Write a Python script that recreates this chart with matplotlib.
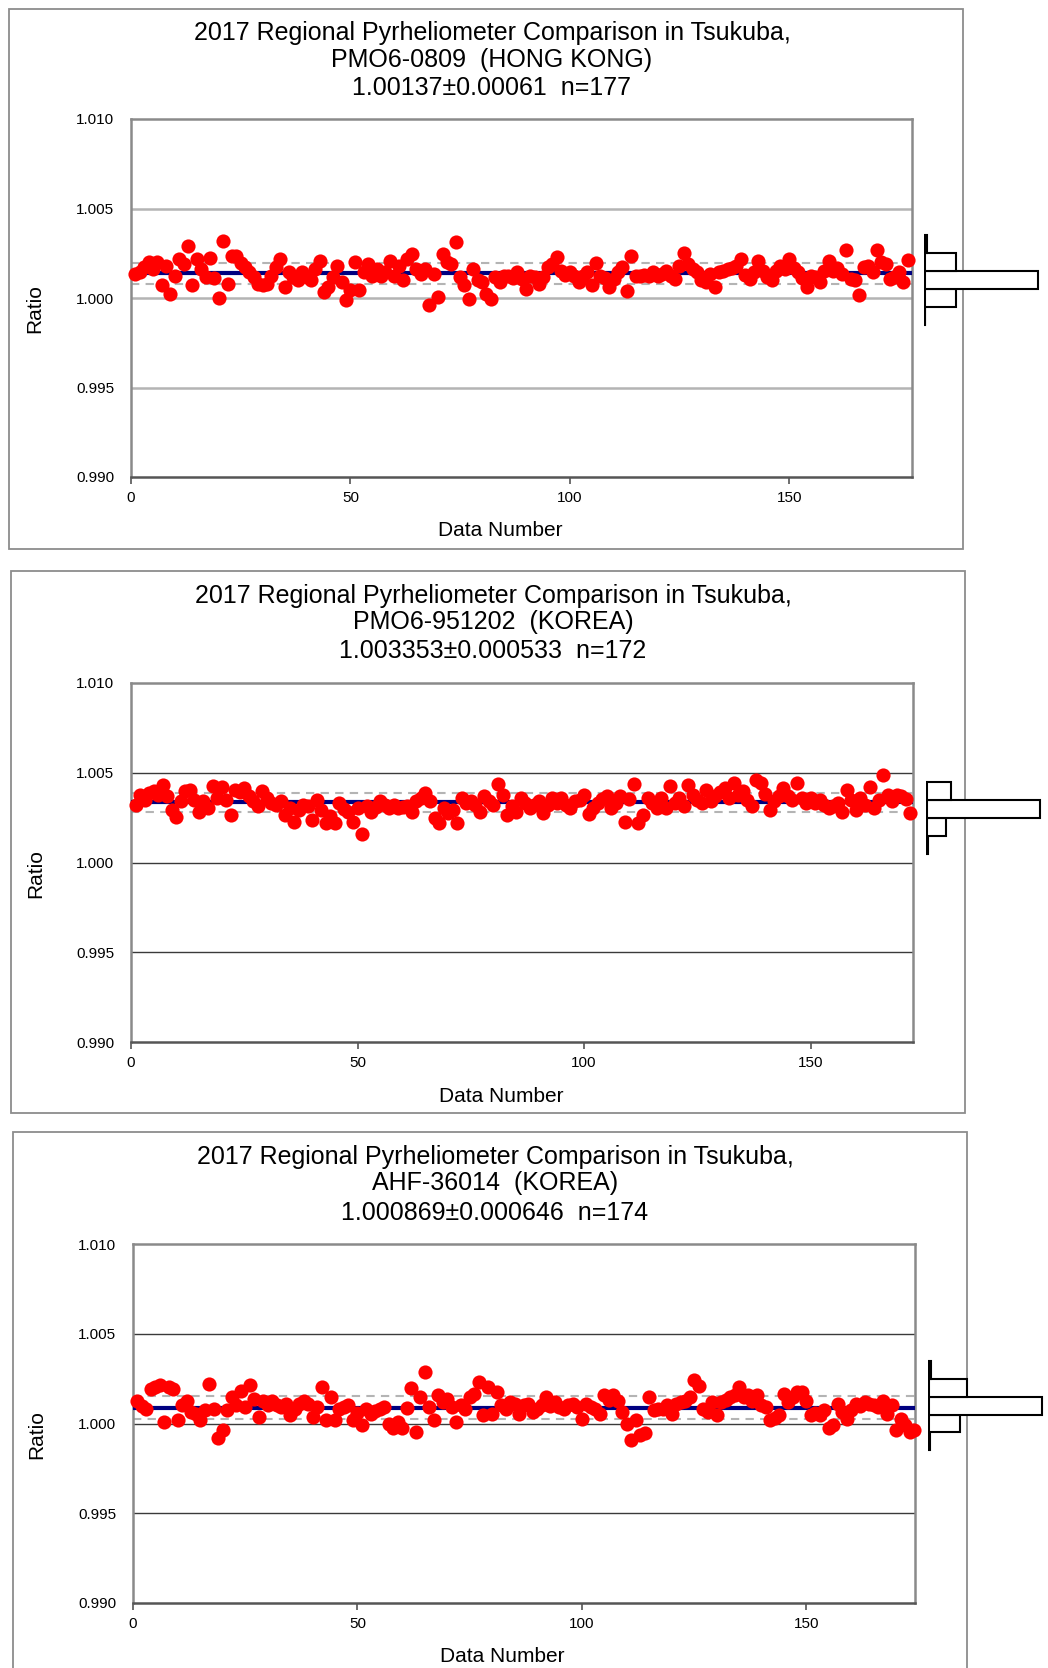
import numpy as np
import matplotlib
matplotlib.use("Agg")
import matplotlib.pyplot as plt
from matplotlib.patches import Rectangle

plt.rcParams['font.family'] = ['Liberation Sans', 'DejaVu Sans']

# ---- data ----
title_top = "2017 Regional Pyrheliometer Comparison in Tsukuba,"
instruments = ["PMO6-0809  (HONG KONG)", "PMO6-951202  (KOREA)", "AHF-36014  (KOREA)"]
mean_text = ["1.00137", "1.003353", "1.000869"]
std_text = ["0.00061", "0.000533", "0.000646"]
means = [1.00137, 1.003353, 1.000869]
stds = [0.00061, 0.000533, 0.000646]

ratio_hk = [
    1.00135, 1.00144, 1.00172, 1.00203, 1.00162, 1.00203, 1.00074, 1.00181, 1.00024, 1.00125,
    1.00218, 1.00190, 1.00292, 1.00074, 1.00218, 1.00162, 1.00116, 1.00223, 1.00111, 1.00000,
    1.00319, 1.00079, 1.00236, 1.00232, 1.00196, 1.00172, 1.00144, 1.00116, 1.00079, 1.00070,
    1.00079, 1.00125, 1.00172, 1.00218, 1.00061, 1.00144, 1.00116, 1.00098, 1.00144, 1.00120,
    1.00098, 1.00162, 1.00208, 1.00033, 1.00061, 1.00116, 1.00177, 1.00090, 0.99987, 1.00042,
    1.00199, 1.00042, 1.00144, 1.00190, 1.00125, 1.00162, 1.00125, 1.00144, 1.00208, 1.00125,
    1.00181, 1.00098, 1.00218, 1.00245, 1.00162, 1.00135, 1.00162, 0.99959, 1.00135, 1.00006,
    1.00245, 1.00199, 1.00190, 1.00314, 1.00116, 1.00070, 0.99993, 1.00162, 1.00098, 1.00089,
    1.00024, 0.99996, 1.00116, 1.00089, 1.00125, 1.00125, 1.00110, 1.00144, 1.00107, 1.00052,
    1.00125, 1.00116, 1.00079, 1.00116, 1.00172, 1.00190, 1.00227, 1.00153, 1.00130, 1.00144,
    1.00125, 1.00089, 1.00125, 1.00144, 1.00070, 1.00196, 1.00125, 1.00110, 1.00061, 1.00107,
    1.00144, 1.00172, 1.00037, 1.00232, 1.00125, 1.00125, 1.00130, 1.00125, 1.00144, 1.00125,
    1.00135, 1.00153, 1.00125, 1.00107, 1.00181, 1.00251, 1.00190, 1.00160, 1.00144, 1.00098,
    1.00089, 1.00135, 1.00061, 1.00144, 1.00153, 1.00162, 1.00170, 1.00181, 1.00218, 1.00130,
    1.00107, 1.00144, 1.00208, 1.00150, 1.00120, 1.00098, 1.00153, 1.00181, 1.00160, 1.00218,
    1.00170, 1.00144, 1.00110, 1.00061, 1.00125, 1.00116, 1.00089, 1.00150, 1.00208, 1.00153,
    1.00170, 1.00135, 1.00269, 1.00107, 1.00098, 1.00015, 1.00172, 1.00180, 1.00144, 1.00269,
    1.00200, 1.00190, 1.00107, 1.00116, 1.00144, 1.00089, 1.00210,
]

ratio_pmo_kr = [
    1.00321, 1.00377, 1.00350, 1.00386, 1.00396, 1.00377, 1.00433, 1.00368, 1.00293, 1.00256,
    1.00340, 1.00396, 1.00405, 1.00349, 1.00284, 1.00340, 1.00303, 1.00424, 1.00358, 1.00418,
    1.00349, 1.00262, 1.00405, 1.00392, 1.00414, 1.00368, 1.00340, 1.00312, 1.00400, 1.00358,
    1.00330, 1.00321, 1.00340, 1.00265, 1.00303, 1.00228, 1.00293, 1.00320, 1.00312, 1.00237,
    1.00349, 1.00293, 1.00219, 1.00260, 1.00219, 1.00330, 1.00300, 1.00284, 1.00228, 1.00303,
    1.00157, 1.00312, 1.00284, 1.00310, 1.00340, 1.00320, 1.00303, 1.00321, 1.00303, 1.00310,
    1.00312, 1.00284, 1.00340, 1.00360, 1.00386, 1.00340, 1.00247, 1.00219, 1.00303, 1.00275,
    1.00293, 1.00219, 1.00362, 1.00330, 1.00344, 1.00321, 1.00284, 1.00368, 1.00344, 1.00320,
    1.00437, 1.00377, 1.00265, 1.00312, 1.00284, 1.00358, 1.00330, 1.00303, 1.00320, 1.00340,
    1.00275, 1.00321, 1.00358, 1.00330, 1.00358, 1.00321, 1.00303, 1.00340, 1.00350, 1.00377,
    1.00269, 1.00303, 1.00330, 1.00355, 1.00368, 1.00303, 1.00330, 1.00368, 1.00228, 1.00355,
    1.00437, 1.00219, 1.00265, 1.00358, 1.00330, 1.00303, 1.00358, 1.00303, 1.00424, 1.00330,
    1.00358, 1.00312, 1.00433, 1.00377, 1.00350, 1.00330, 1.00405, 1.00340, 1.00368, 1.00390,
    1.00414, 1.00360, 1.00442, 1.00377, 1.00396, 1.00350, 1.00312, 1.00461, 1.00442, 1.00380,
    1.00293, 1.00340, 1.00370, 1.00414, 1.00368, 1.00350, 1.00442, 1.00358, 1.00330, 1.00358,
    1.00330, 1.00349, 1.00320, 1.00303, 1.00312, 1.00330, 1.00284, 1.00405, 1.00349, 1.00293,
    1.00358, 1.00320, 1.00418, 1.00303, 1.00350, 1.00485, 1.00377, 1.00340, 1.00377, 1.00368,
    1.00355, 1.00275,
]

ratio_ahf_kr = [
    1.00128, 1.00100, 1.00082, 1.00192, 1.00201, 1.00214, 1.00009, 1.00201, 1.00192, 1.00018,
    1.00101, 1.00128, 1.00064, 1.00055, 1.00018, 1.00073, 1.00220, 1.00082, 0.99918, 0.99963,
    1.00073, 1.00147, 1.00101, 1.00183, 1.00092, 1.00214, 1.00137, 1.00037, 1.00128, 1.00101,
    1.00128, 1.00101, 1.00092, 1.00110, 1.00046, 1.00082, 1.00110, 1.00128, 1.00110, 1.00037,
    1.00090, 1.00201, 1.00018, 1.00147, 1.00018, 1.00082, 1.00090, 1.00101, 1.00018, 1.00060,
    0.99991, 1.00082, 1.00055, 1.00070, 1.00082, 1.00092, 1.00000, 0.99973, 1.00009, 0.99975,
    1.00086, 1.00196, 0.99954, 1.00147, 1.00288, 1.00092, 1.00018, 1.00156, 1.00120, 1.00137,
    1.00092, 1.00009, 1.00101, 1.00082, 1.00147, 1.00165, 1.00229, 1.00049, 1.00201, 1.00055,
    1.00174, 1.00101, 1.00082, 1.00120, 1.00110, 1.00055, 1.00101, 1.00110, 1.00064, 1.00082,
    1.00101, 1.00147, 1.00100, 1.00119, 1.00092, 1.00082, 1.00101, 1.00110, 1.00092, 1.00027,
    1.00110, 1.00090, 1.00082, 1.00055, 1.00156, 1.00130, 1.00156, 1.00128, 1.00064, 1.00000,
    0.99908, 1.00018, 0.99936, 0.99945, 1.00147, 1.00073, 1.00082, 1.00082, 1.00101, 1.00055,
    1.00110, 1.00119, 1.00128, 1.00147, 1.00244, 1.00207, 1.00082, 1.00064, 1.00119, 1.00046,
    1.00119, 1.00130, 1.00147, 1.00156, 1.00201, 1.00147, 1.00156, 1.00128, 1.00156, 1.00101,
    1.00092, 1.00018, 1.00030, 1.00046, 1.00165, 1.00119, 1.00150, 1.00174, 1.00174, 1.00128,
    1.00046, 1.00060, 1.00046, 1.00073, 0.99973, 0.99991, 1.00110, 1.00064, 1.00027, 1.00073,
    1.00110, 1.00100, 1.00119, 1.00110, 1.00101, 1.00090, 1.00128, 1.00055, 1.00101, 0.99963,
    1.00027, 0.99991, 0.99954, 0.99963,
]

# histogram beside each chart (bin centres and counts)
hist_bins = [[0.999, 1.000, 1.001, 1.002, 1.003],
             [1.001, 1.002, 1.003, 1.004],
             [0.999, 1.000, 1.001, 1.002, 1.003]]
hist_counts = [[1, 32, 114, 32, 3],
               [2, 20, 114, 25],
               [2, 32, 114, 39, 3]]

series = [ratio_hk, ratio_pmo_kr, ratio_ahf_kr]
y_ticks = [0.990, 0.995, 1.000, 1.005, 1.010]
x_ticks = [0, 50, 100, 150]

# ---- layout (pixel based) ----
W, H = 1048, 1668
fig = plt.figure(figsize=(W / 100, H / 100), dpi=100)

def fx(px):
    return px / W

def fy(py):
    return 1 - py / H

boxes = [(8.5, 8.5, 963, 549), (10.6, 571, 965, 1113), (12.8, 1132, 967, 1672)]
axes_px = [(131, 119, 912, 477), (131, 683, 913, 1042), (133, 1244, 915, 1603)]
title_y = [(33, 60, 88), (596, 622, 651), (1157, 1183, 1213)]
title_x = [492, 493, 495]
hist_x0 = [924, 926, 928]
x_max = [178, 172.6, 174.2]
grid_col = ['#b4b4b4', '#3a3a3a', '#3a3a3a']
grid_lw = [1.8, 1.0, 1.0]

for k in range(3):
    vals = series[k]
    n = len(vals)
    x = np.arange(1, n + 1)

    bx0, by0, bx1, by1 = boxes[k]
    fig.add_artist(Rectangle((fx(bx0), fy(by1)), fx(bx1) - fx(bx0), fy(by0) - fy(by1),
                             transform=fig.transFigure, fill=False,
                             edgecolor='#8c8c8c', lw=1.3, zorder=0))

    l, t, r, b = axes_px[k]
    ax = fig.add_axes([fx(l), fy(b), fx(r) - fx(l), fy(t) - fy(b)])
    ax.set_xlim(0, x_max[k])
    ax.set_ylim(0.990, 1.010)
    ax.set_yticks(y_ticks)
    ax.set_yticklabels([f"{v:.3f}" for v in y_ticks], fontsize=11)
    ax.set_xticks(x_ticks)
    ax.set_xticklabels([str(v) for v in x_ticks], fontsize=11)
    ax.tick_params(axis='x', length=5, width=1.2, pad=5, color='#555555')
    ax.tick_params(axis='y', length=0, pad=12)

    for yv in y_ticks[1:-1]:
        ax.axhline(yv, color=grid_col[k], lw=grid_lw[k], zorder=1)
    for s in ['left', 'right', 'top']:
        ax.spines[s].set_color('#8a8a8a')
        ax.spines[s].set_linewidth(1.8)
    ax.spines['bottom'].set_color('#555555')
    ax.spines['bottom'].set_linewidth(1.8)

    m, sd = means[k], stds[k]
    ax.axhline(m + sd, color='#b4b4b4', lw=1.5, ls=(0, (4, 3)), zorder=2)
    ax.axhline(m - sd, color='#b4b4b4', lw=1.5, ls=(0, (4, 3)), zorder=2)
    ax.axhline(m, color='#000080', lw=3, zorder=3)
    ax.plot(x, vals, 'o', color='#ff0000', markersize=10.2, markeredgewidth=0,
            zorder=4, clip_on=False)

    # titles and labels
    lines = [title_top, instruments[k], f"{mean_text[k]}\u00b1{std_text[k]}  n={n}"]
    for txt, ty in zip(lines, title_y[k]):
        fig.text(fx(title_x[k]), fy(ty), txt, ha='center', va='center', fontsize=18)
    fig.text(fx(500 + k), fy(b + 54), "Data Number", ha='center', va='center', fontsize=15)
    fig.text(fx(35 + k), fy((t + b) / 2 + 11), "Ratio", ha='center', va='center',
             rotation=90, fontsize=15)

    # side histogram
    hx = hist_x0[k]
    axh = fig.add_axes([fx(hx), fy(b), fx(120), fy(t) - fy(b)], zorder=2)
    axh.set_xlim(0, 120)
    axh.set_ylim(0.990, 1.010)
    axh.axis('off')
    axh.barh(hist_bins[k], hist_counts[k], height=0.001, left=0,
             color='white', edgecolor='black', lw=1.5)
    axh.plot([0, 0], [hist_bins[k][0] - 0.0005, hist_bins[k][-1] + 0.0005],
             color='black', lw=2.2, solid_capstyle='butt')

fig.savefig("out.png", dpi=100)
